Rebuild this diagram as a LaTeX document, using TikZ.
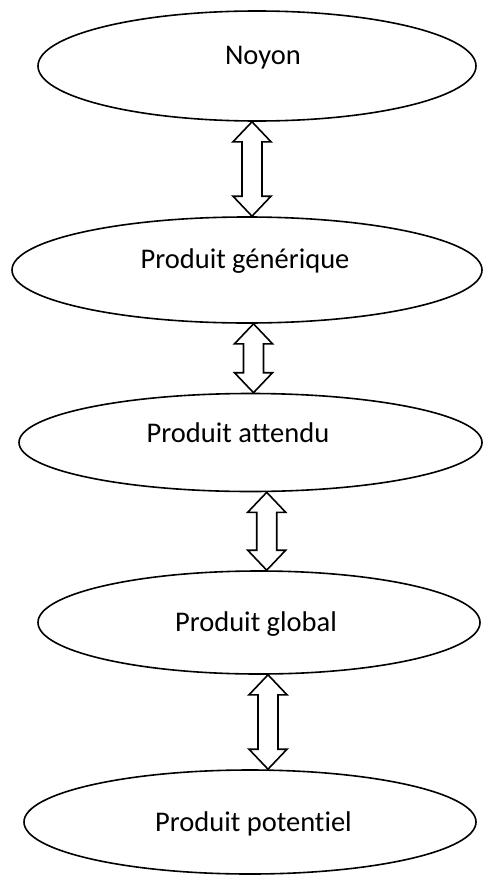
\documentclass[tikz,border=0pt]{standalone}
\usepackage{fontspec}
\setmainfont[Ligatures={NoCommon}]{Carlito}
\usetikzlibrary{shapes.geometric,calc}

% hollow two-headed arrow between two stacked nodes, at horizontal position #3
\newcommand\hollowlink[3]{%
  \path ({#3},0 |- #1.south) coordinate (lt) ({#3},0 |- #2.north) coordinate (lb);
  \draw[linkline] (lt) -- ++(19,20) -- ++(-9,0) -- ($(lb)+(10,-20)$) -- ++(9,0)
    -- (lb) -- ++(-19,-20) -- ++(9,0) -- ($(lt)+(-10,20)$) -- ++(-9,0) -- cycle;
}

\tikzset{
  oval/.style={draw, ellipse, line width=1.6pt, inner sep=0pt, fill=white},
  caption/.style={anchor=base, inner sep=0pt, font=\fontsize{28.5}{34}\selectfont},
  linkline/.style={draw, fill=white, line width=1.6pt, line join=miter},
}

\begin{document}
\begin{tikzpicture}[x=1pt, y=-1pt]
  \useasboundingbox (0,0) rectangle (482,875);

  \node[oval, minimum width=438pt, minimum height=110pt] (noyon) at (257,66) {};
  \node[oval, minimum width=470pt, minimum height=106pt] (generique) at (247,270) {};
  \node[oval, minimum width=463pt, minimum height=98pt] (attendu) at (250.5,442.5) {};
  \node[oval, minimum width=442pt, minimum height=103pt] (global) at (259,622.5) {};
  \node[oval, minimum width=452pt, minimum height=104pt] (potentiel) at (250,822) {};

  \node[caption] (tnoyon) at (263,64) {Noyon};
  \node[caption] (tgenerique) at (245,268) {Produit générique};
  \node[caption] (tattendu) at (238,442) {Produit attendu};
  \node[caption] (tglobal) at (256,631) {Produit global};
  \node[caption] (tpotentiel) at (253.5,831) {Produit potentiel};

  \hollowlink{noyon}{generique}{252}
  \hollowlink{generique}{attendu}{253.5}
  \hollowlink{attendu}{global}{266.7}
  \hollowlink{global}{potentiel}{268}
\end{tikzpicture}
\end{document}
